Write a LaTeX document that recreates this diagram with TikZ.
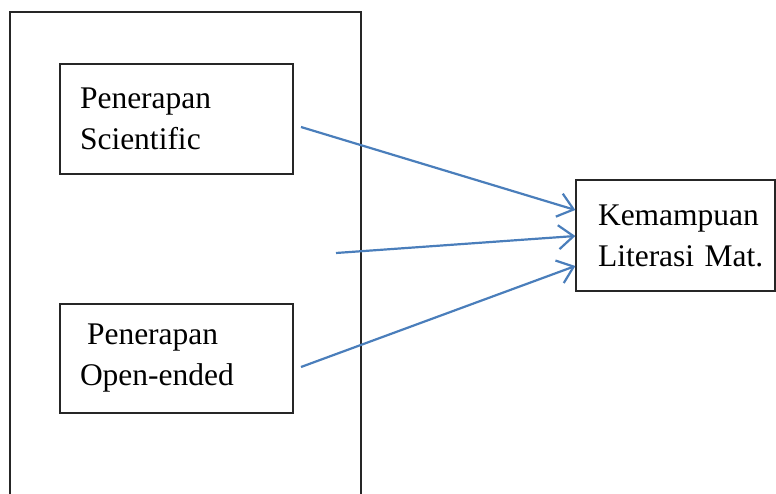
\documentclass[tikz,border=0pt]{standalone}
\usepackage{fontspec}
\setmainfont{Liberation Serif}
\usetikzlibrary{positioning,arrows.meta,calc}
\definecolor{kline}{HTML}{262626}
\definecolor{karrow}{HTML}{4A7EBB}
\tikzset{kbox/.style={rectangle, draw=kline, line width=1.3pt, fill=white, align=left, inner ysep=0pt, font=\fontsize{31.5}{41}\selectfont}}
\tikzset{kedge/.style={-{Straight Barb[length=15pt, width=24pt, line width=2.2pt]}, draw=karrow, line width=2.2pt}}
\begin{document}
\begin{tikzpicture}[x=1pt, y=-1pt]
  \useasboundingbox (0,0) rectangle (776,494);

  % outer frame, open at the bottom
  \coordinate (frameA) at (10,494);
  \coordinate (frameB) at (361,494);
  \draw[kline, line width=1.2pt] (frameA) -- (frameA |- 0,12) -- (frameB |- 0,12) -- (frameB);

  \node[kbox, minimum width=233pt, minimum height=110pt, text width=193pt, inner xsep=20pt] (scientific) at (176.5,119) {Penerapan\\Scientific};
  \node[kbox, minimum width=233pt, minimum height=109pt, text width=193pt, inner xsep=20pt] (openended) at (176.5,358.5) {\hspace{7pt}Penerapan\\Open-ended};
  \node[kbox, minimum width=199pt, minimum height=111pt, text width=155pt, inner xsep=22pt] (literasi) at (675.5,235.5) {Kemampuan\\Literasi~Mat.};

  \coordinate (fromsci) at (301,127);
  \coordinate (frommid) at (336,253);
  \coordinate (fromopen) at (301,367);

  \draw[kedge] (fromsci) -- ($(literasi.west)+(0,-25.5)$);
  \draw[kedge] (frommid) -- ($(literasi.west)+(0,0.5)$);
  \draw[kedge] (fromopen) -- ($(literasi.west)+(0,30.5)$);
\end{tikzpicture}
\end{document}
